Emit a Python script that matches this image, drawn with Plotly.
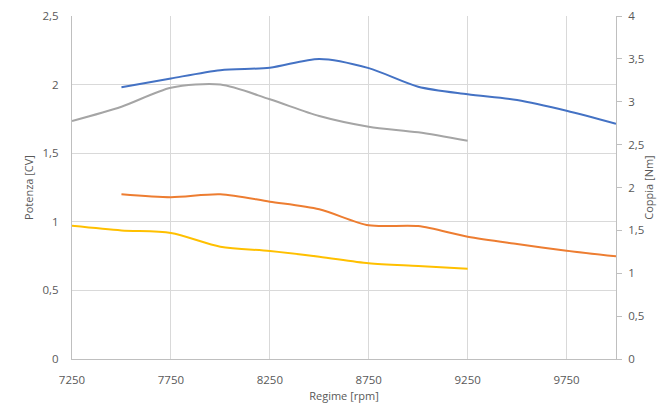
import plotly.graph_objects as go

rpm_a = [7500, 7750, 8000, 8250, 8500, 8750, 9000, 9250, 9500, 9750, 10000]
rpm_b = [7250, 7500, 7750, 8000, 8250, 8500, 8750, 9000, 9250]

potenza_a = [1.98, 2.045, 2.105, 2.123, 2.187, 2.12, 1.985, 1.93, 1.888, 1.81, 1.715]
coppia_a = [1.92, 1.886, 1.92, 1.835, 1.746, 1.559, 1.55, 1.426, 1.341, 1.263, 1.197]
potenza_b = [1.735, 1.839, 1.977, 2.0, 1.893, 1.771, 1.693, 1.652, 1.59]
coppia_b = [1.554, 1.50, 1.469, 1.31, 1.259, 1.193, 1.116, 1.085, 1.053]

x_ticks = [7250, 7750, 8250, 8750, 9250, 9750]
y_left_ticks = [0, 0.5, 1, 1.5, 2, 2.5]
y_left_text = ["0", "0,5", "1", "1,5", "2", "2,5"]
y_right_ticks = [0, 0.5, 1, 1.5, 2, 2.5, 3, 3.5, 4]
y_right_text = ["0", "0,5", "1", "1,5", "2", "2,5", "3", "3,5", "4"]

font = "Open Sans, Liberation Sans, sans-serif"
tick_col = "#595959"

fig = go.Figure()
line = dict(shape="spline", smoothing=0.8, width=2)
fig.add_trace(go.Scatter(x=rpm_a, y=potenza_a, mode="lines", line=dict(color="#4472C4", **line), yaxis="y"))
fig.add_trace(go.Scatter(x=rpm_a, y=coppia_a, mode="lines", line=dict(color="#ED7D31", **line), yaxis="y2"))
fig.add_trace(go.Scatter(x=rpm_b, y=potenza_b, mode="lines", line=dict(color="#A5A5A5", **line), yaxis="y"))
fig.add_trace(go.Scatter(x=rpm_b, y=coppia_b, mode="lines", line=dict(color="#FFC000", **line), yaxis="y2"))

fig.update_layout(
    width=657, height=399,
    margin=dict(l=64, r=49, t=8, b=48),
    paper_bgcolor="white", plot_bgcolor="white",
    showlegend=False,
    font=dict(family=font, size=11, color=tick_col),
    xaxis=dict(
        range=[7250, 10000], tickvals=x_ticks, ticktext=[str(v) for v in x_ticks],
        showgrid=True, gridcolor="#D9D9D9", gridwidth=1,
        showline=True, linecolor="#BFBFBF", linewidth=1,
        zeroline=False, ticks="", automargin=False,
        ticklabelstandoff=10, tickfont=dict(size=11.5),
        title=dict(text="Regime [rpm]", font=dict(size=11, color=tick_col), standoff=6),
    ),
    yaxis=dict(
        range=[0, 2.5], tickvals=y_left_ticks, ticktext=y_left_text,
        showgrid=True, gridcolor="#D9D9D9", gridwidth=1,
        showline=True, linecolor="#BFBFBF", linewidth=1,
        zeroline=False, ticks="", automargin=False,
        ticklabelstandoff=10, tickfont=dict(size=11.5),
        title=dict(text="Potenza [CV]", font=dict(size=11, color=tick_col), standoff=6),
    ),
    yaxis2=dict(
        range=[0, 4], tickvals=y_right_ticks, ticktext=y_right_text,
        overlaying="y", side="right", automargin=False,
        showgrid=False, showline=True, linecolor="#BFBFBF", linewidth=1,
        zeroline=False, ticks="outside", ticklen=5, tickcolor="#BFBFBF",
        ticklabelstandoff=4, tickfont=dict(size=11.5),
        title=dict(text="Coppia [Nm]", font=dict(size=11, color=tick_col), standoff=1),
    ),
)

fig.write_html("out.html")
